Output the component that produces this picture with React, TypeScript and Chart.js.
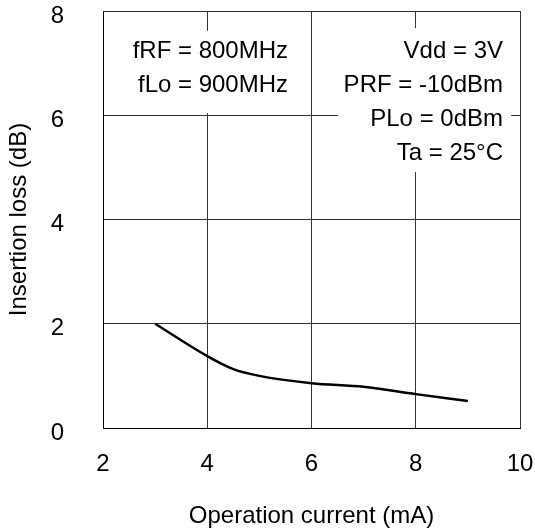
import React, { useEffect, useRef } from "react";
import { Chart, registerables } from "chart.js";

Chart.register(...registerables);

const currentMA = [3, 4, 4.5, 5, 6, 7, 8, 9];
const insertionLossDB = [2.0, 1.38, 1.13, 1.0, 0.86, 0.79, 0.65, 0.52];
const leftNotes = ["fRF = 800MHz", "fLo = 900MHz"];
const rightNotes = ["Vdd = 3V", "PRF = -10dBm", "PLo = 0dBm", "Ta = 25°C"];

const FONT = '"Liberation Sans", Arial, sans-serif';
const SIZE = 24;

const notesPlugin = {
  id: "notes",
  beforeDatasetsDraw(chart: any) {
    const { ctx, scales } = chart;
    const x = scales.x;
    const y = scales.y;
    const rect = (x0: number, x1: number, y0: number, y1: number) => {
      const px0 = x.getPixelForValue(x0);
      const px1 = x.getPixelForValue(x1);
      const py0 = y.getPixelForValue(y0);
      const py1 = y.getPixelForValue(y1);
      ctx.fillRect(px0, py0, px1 - px0, py1 - py0);
    };
    ctx.save();
    ctx.fillStyle = "#ffffff";
    rect(2.52, 5.78, 7.62, 6.04);
    rect(6.51, 9.83, 7.67, 4.91);
    ctx.fillStyle = "#000000";
    ctx.font = `${SIZE}px ${FONT}`;
    ctx.textAlign = "right";
    ctx.textBaseline = "alphabetic";
    const lineStep = 34 / 52.125;
    leftNotes.forEach((t, i) => {
      ctx.fillText(t, x.getPixelForValue(5.55), y.getPixelForValue(7.1 - i * lineStep));
    });
    rightNotes.forEach((t, i) => {
      ctx.fillText(t, x.getPixelForValue(9.674), y.getPixelForValue(7.1 - i * lineStep));
    });
    ctx.restore();
  },
};

export default function App() {
  const ref = useRef<HTMLCanvasElement>(null);
  useEffect(() => {
    if (!ref.current) return;
    const chart = new Chart(ref.current, {
      type: "line",
      data: {
        datasets: [
          {
            data: currentMA.map((v, i) => ({ x: v, y: insertionLossDB[i] })),
            borderColor: "#000000",
            borderWidth: 2.5,
            pointRadius: 0,
            cubicInterpolationMode: "monotone",
            fill: false,
          },
        ],
      },
      options: {
        animation: false,
        responsive: true,
        maintainAspectRatio: false,
        layout: { padding: { top: 11, right: 15, left: 0, bottom: 0 } },
        plugins: { legend: { display: false }, tooltip: { enabled: false } },
        scales: {
          x: {
            type: "linear",
            min: 2,
            max: 10,
            ticks: {
              stepSize: 2,
              color: "#000",
              font: { family: FONT, size: SIZE },
              padding: 22,
            },
            grid: { color: "#333", lineWidth: 1, drawTicks: false },
            border: { display: true, color: "#000", width: 1 },
            title: {
              display: true,
              text: "Operation current (mA)",
              color: "#000",
              font: { family: FONT, size: SIZE },
              padding: { top: 0, bottom: 0 },
            },
            afterFit: (s: any) => {
              s.height = 103;
              s.paddingLeft = 0;
              s.paddingRight = 0;
            },
          },
          y: {
            type: "linear",
            min: 0,
            max: 8,
            ticks: {
              stepSize: 2,
              color: "#000",
              font: { family: FONT, size: SIZE },
              padding: 39,
              labelOffset: 5,
            },
            grid: { color: "#333", lineWidth: 1, drawTicks: false },
            border: { display: true, color: "#000", width: 1 },
            title: {
              display: true,
              text: "Insertion loss (dB)",
              color: "#000",
              font: { family: FONT, size: SIZE },
              padding: { top: 5, bottom: 0 },
            },
            afterFit: (s: any) => {
              s.width = 103;
              s.paddingTop = 0;
              s.paddingBottom = 0;
            },
          },
        },
      },
      plugins: [notesPlugin],
    } as any);
    return () => chart.destroy();
  }, []);
  return (
    <div style={{ position: "fixed", left: 0, top: 0, width: 535, height: 531, background: "#fff" }}>
      <canvas ref={ref} />
    </div>
  );
}
